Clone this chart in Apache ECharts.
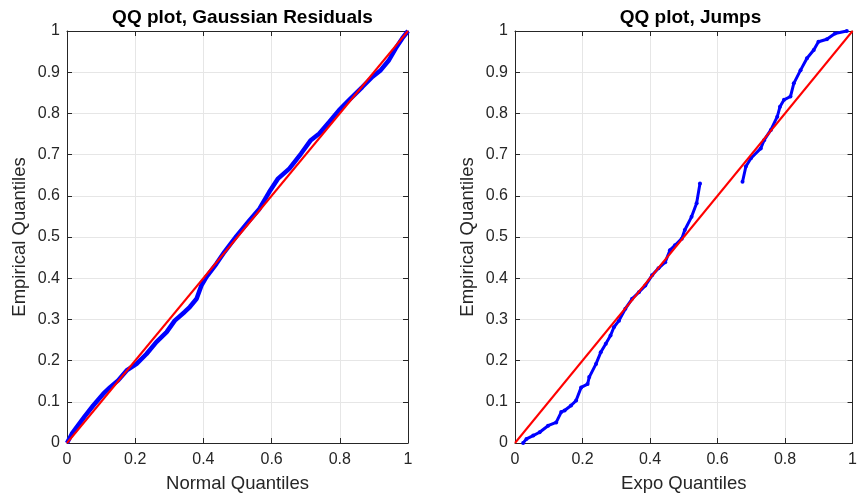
<!DOCTYPE html>
<html>
<head>
<meta charset="utf-8">
<script src="https://cdn.jsdelivr.net/npm/echarts@6/dist/echarts.min.js"></script>
<style>
  html, body { margin: 0; padding: 0; background: #fff; }
  #chart { width: 860px; height: 501px; }
</style>
</head>
<body>
<div id="chart"></div>
<script>
// QQ plot, Gaussian residuals (left panel)
const gaussX = [0, 0.014, 0.028, 0.053, 0.077, 0.106, 0.126, 0.150, 0.175, 0.204, 0.233, 0.262, 0.292, 0.316, 0.345, 0.360, 0.380, 0.394, 0.409, 0.438, 0.462, 0.497,
  0.535, 0.564, 0.593, 0.618, 0.652, 0.686, 0.715, 0.740, 0.769, 0.798, 0.827, 0.866, 0.896, 0.920, 0.944, 0.964, 0.983, 1]
const gaussY = [0, 0.022, 0.038, 0.066, 0.091, 0.119, 0.135, 0.152, 0.176, 0.192, 0.216, 0.245, 0.269, 0.297, 0.318, 0.330, 0.350, 0.382, 0.403, 0.435, 0.464, 0.502,
  0.540, 0.568, 0.609, 0.641, 0.666, 0.702, 0.735, 0.751, 0.779, 0.808, 0.832, 0.864, 0.889, 0.905, 0.929, 0.958, 0.982, 1]

// QQ plot, jumps (right panel), null splits the two runs
const jumpsX = [0.024, 0.034, 0.054, 0.073, 0.098, 0.122, 0.137, 0.147, 0.166, 0.181, 0.196, 0.215, 0.220, 0.240, 0.254, 0.269, 0.283, 0.293, 0.308, 0.327, 0.347, 0.367, 0.386, 0.406, 0.425, 0.445, 0.459, 0.474, 0.494, 0.503, 0.523, 0.538, 0.548,
  null,
  0.674, 0.684, 0.699, 0.728, 0.738, 0.758, 0.777, 0.785, 0.797, 0.816, 0.826, 0.846, 0.865, 0.885, 0.899, 0.924, 0.948, 0.983]
const jumpsY = [0, 0.010, 0.018, 0.026, 0.042, 0.050, 0.075, 0.079, 0.091, 0.103, 0.135, 0.143, 0.160, 0.192, 0.220, 0.241, 0.261, 0.281, 0.297, 0.326, 0.350, 0.366, 0.382, 0.407, 0.424, 0.439, 0.468, 0.480, 0.496, 0.517, 0.549, 0.582, 0.630,
  null,
  0.634, 0.671, 0.691, 0.715, 0.735, 0.760, 0.792, 0.816, 0.833, 0.841, 0.873, 0.905, 0.934, 0.954, 0.974, 0.980, 0.994, 1.0]

// reference line y = x
const refX = [0, 1]
const refY = [0, 1]

const titles = ['QQ plot, Gaussian Residuals', 'QQ plot, Jumps']
const xNames = ['Normal Quantiles', 'Expo Quantiles']
const yName = 'Empirical Quantiles'

const pairs = (xs, ys) => xs.map((x, i) => (x === null ? [null, null] : [x, ys[i]]))

const axisColor = '#262626'
const gridColor = '#e6e6e6'
const font = 'Liberation Sans, Arial, sans-serif'
const gridLefts = [67, 515]

const chart = echarts.init(document.getElementById('chart'))

// MATLAB-style box: each panel gets a second x axis on top and y axis on the right
const xAxes = []
const yAxes = []
gridLefts.forEach((left, g) => {
  const line = { show: true, onZero: false, lineStyle: { color: axisColor, width: 1 } }
  const tick = { show: true, inside: true, length: 5, lineStyle: { color: axisColor } }
  xAxes.push({
    gridIndex: g, type: 'value', min: 0, max: 1, interval: 0.2,
    name: xNames[g], nameLocation: 'middle', nameGap: 31,
    nameTextStyle: { fontFamily: font, fontSize: 18.5, color: axisColor },
    axisLine: line, axisTick: tick,
    axisLabel: { fontFamily: font, fontSize: 16, color: axisColor, margin: 9 },
    splitLine: { show: true, lineStyle: { color: gridColor, width: 1 } }
  })
  xAxes.push({
    gridIndex: g, type: 'value', min: 0, max: 1, interval: 0.2, position: 'top',
    axisLine: line, axisTick: tick,
    axisLabel: { show: false }, splitLine: { show: false }
  })
  yAxes.push({
    gridIndex: g, type: 'value', min: 0, max: 1, interval: 0.1,
    name: yName, nameLocation: 'middle', nameGap: 38,
    nameTextStyle: { fontFamily: font, fontSize: 18.5, color: axisColor },
    axisLine: line, axisTick: tick,
    axisLabel: { fontFamily: font, fontSize: 16, color: axisColor, margin: 7 },
    splitLine: { show: true, lineStyle: { color: gridColor, width: 1 } }
  })
  yAxes.push({
    gridIndex: g, type: 'value', min: 0, max: 1, interval: 0.1, position: 'right',
    axisLine: line, axisTick: tick,
    axisLabel: { show: false }, splitLine: { show: false }
  })
})

const option = {
  animation: false,
  backgroundColor: '#fff',
  title: titles.map((t, g) => ({
    text: t, left: gridLefts[g] + 170.5, top: 3, textAlign: 'center',
    textStyle: { fontFamily: font, fontSize: 19, fontWeight: 'bold', color: '#000' }
  })),
  grid: gridLefts.map(left => ({ left: left, top: 31, width: 341, height: 412 })),
  xAxis: xAxes,
  yAxis: yAxes,
  series: [
    {
      type: 'line', xAxisIndex: 0, yAxisIndex: 0,
      data: pairs(gaussX, gaussY),
      showSymbol: false,
      lineStyle: { color: '#0000ff', width: 4.5 }, z: 2
    },
    {
      type: 'line', xAxisIndex: 0, yAxisIndex: 0,
      data: pairs(refX, refY),
      showSymbol: false,
      lineStyle: { color: '#ff0000', width: 2 }, z: 3
    },
    {
      type: 'line', xAxisIndex: 2, yAxisIndex: 2,
      data: pairs(jumpsX, jumpsY),
      connectNulls: false,
      symbol: 'circle', symbolSize: 4, showSymbol: true,
      itemStyle: { color: '#0000ff' },
      lineStyle: { color: '#0000ff', width: 3 }, z: 2
    },
    {
      type: 'line', xAxisIndex: 2, yAxisIndex: 2,
      data: pairs(refX, refY),
      showSymbol: false,
      lineStyle: { color: '#ff0000', width: 2 }, z: 3
    }
  ]
}

chart.setOption(option)
</script>
</body>
</html>
